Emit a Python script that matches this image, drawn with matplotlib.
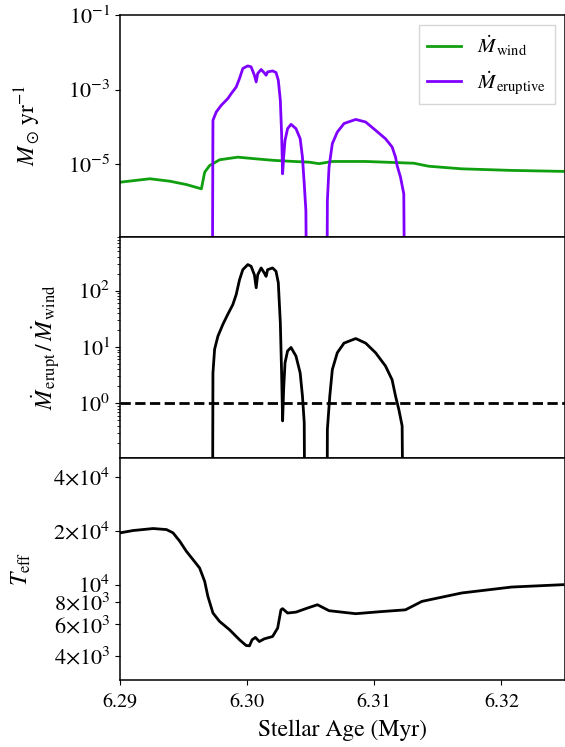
import numpy as np
import matplotlib.pyplot as plt
from matplotlib.ticker import NullLocator, FixedLocator

plt.rcParams['font.family'] = 'STIXGeneral'
plt.rcParams['mathtext.fontset'] = 'stix'
plt.rcParams['font.size'] = 14.5

# wind mass loss rate (Msun/yr)
age_wind = [6.29, 6.29235, 6.29392, 6.29522, 6.2964, 6.29666, 6.29705, 6.29731,
            6.29783, 6.29926, 6.30057, 6.30214, 6.3037, 6.30488, 6.30566, 6.3067,
            6.30932, 6.3131, 6.31428, 6.31686, 6.32078, 6.32485]
mdot_wind = [3.28e-6, 4.06e-6, 3.49e-6, 2.84e-6, 2.18e-6, 6.1e-6, 9.2e-6, 1.03e-5,
             1.31e-5, 1.54e-5, 1.4e-5, 1.26e-5, 1.18e-5, 1.13e-5, 1.03e-5, 1.18e-5,
             1.18e-5, 1.06e-5, 8.8e-6, 7.5e-6, 6.8e-6, 6.4e-6]

# eruptive mass loss rate (Msun/yr), 1e-12 where there is no eruption
age_erupt = [6.29723, 6.29731, 6.29757, 6.29796, 6.29848, 6.29875, 6.29914, 6.2994,
             6.29966, 6.30005, 6.30031, 6.30057, 6.30071, 6.30083, 6.3011, 6.30135,
             6.30149, 6.30161, 6.302, 6.30227, 6.30245, 6.30261, 6.30271, 6.30279,
             6.30287, 6.30298, 6.30318, 6.30345, 6.30384, 6.30417, 6.30435, 6.30449,
             6.30462, 6.30475, np.nan,
             6.30623, 6.30631, 6.30644, 6.3067, 6.30709, 6.30762, 6.30854, 6.30932,
             6.3101, 6.31088, 6.3114, 6.31167, 6.31179, 6.31206, 6.31232, 6.31245]
mdot_erupt = [1e-12, 1.5e-4, 2.5e-4, 3.78e-4, 5.73e-4, 7.8e-4, 1.17e-3, 1.98e-3,
              3.67e-3, 4.31e-3, 4.06e-3, 2.42e-3, 1.6e-3, 2.69e-3, 3.45e-3, 2.79e-3,
              2.42e-3, 2.97e-3, 3.16e-3, 2.86e-3, 1.78e-3, 5.15e-4, 6.56e-5, 5.52e-6,
              1.54e-5, 4.34e-5, 8.95e-5, 1.17e-4, 8.95e-5, 4.82e-5, 1.54e-5, 2.97e-6,
              5.7e-7, 1e-12, np.nan,
              1e-12, 1.05e-6, 8.3e-6, 3.55e-5, 7.24e-5, 1.23e-4, 1.58e-4, 1.35e-4,
              8.1e-5, 4.8e-5, 2.9e-5, 1.55e-5, 9.3e-6, 4.5e-6, 1.6e-6, 1e-12]

# ratio eruptive / wind
age_ratio = [6.29723, 6.29731, 6.29744, 6.2977, 6.29809, 6.29848, 6.29887, 6.29914,
             6.2994, 6.29966, 6.30005, 6.30031, 6.30057, 6.30071, 6.30083, 6.3011,
             6.30135, 6.30149, 6.30161, 6.302, 6.30227, 6.30245, 6.30261, 6.30271,
             6.30279, 6.30287, 6.30298, 6.30318, 6.30345, 6.30384, 6.30417, 6.30435,
             6.30449, 6.30462, np.nan,
             6.30623, 6.30631, 6.3065, 6.3067, 6.30709, 6.30762, 6.30854, 6.30932,
             6.3101, 6.31088, 6.3114, 6.31167, 6.31193, 6.31219, 6.3124]
ratio = [1e-6, 3.47, 9.1, 15.5, 25.1, 38, 56, 85,
         155, 234, 288, 269, 190, 112, 190, 251,
         204, 178, 234, 251, 219, 138, 26.9, 3.47,
         0.49, 1.78, 5.25, 8.5, 9.8, 6.9, 3.47, 1.35,
         0.457, 1e-6, np.nan,
         1e-6, 0.347, 1.35, 3.98, 7.9, 11.7, 14.1, 11.7,
         7.9, 4.6, 2.63, 1.35, 0.78, 0.4, 1e-6]

# effective temperature (K)
age_teff = [6.29, 6.29104, 6.29261, 6.29366, 6.29417, 6.2947, 6.29522, 6.29574,
            6.29626, 6.29666, 6.29691, 6.29731, 6.29783, 6.29861, 6.2994, 6.29992,
            6.30018, 6.30039, 6.30065, 6.30096, 6.30135, 6.302, 6.3024, 6.30266,
            6.30279, 6.30318, 6.30384, 6.30475, 6.30553, 6.30644, 6.30854, 6.31036,
            6.31245, 6.31375, 6.31688, 6.3208, 6.32485]
teff = [19450, 20040, 20560, 20280, 19450, 17460, 15350, 13800,
        12390, 10430, 8610, 6950, 6240, 5610, 4930, 4580,
        4560, 4930, 5080, 4820, 4990, 5140, 5730, 7240,
        7350, 6950, 7030, 7410, 7730, 7160, 6890, 7060,
        7240, 8070, 8990, 9700, 10000]
teff_ticks = [4000, 6000, 8000, 10000, 20000, 40000]
teff_ticklabels = ['4×10$^{3}$', '6×10$^{3}$', '8×10$^{3}$',
                   '10$^{4}$', '2×10$^{4}$', '4×10$^{4}$']

fig = plt.figure(figsize=(5.65, 7.47), dpi=100)
left, width = 0.2124, 0.7876
h = 0.2966
ax1 = fig.add_axes([left, 0.6834, width, h])
ax2 = fig.add_axes([left, 0.3866, width, h])
ax3 = fig.add_axes([left, 0.0900, width, h])

ax1.plot(age_wind, mdot_wind, color='#0f9f0f', lw=2, label=r'$\dot M_{\rm wind}$')
ax1.plot(age_erupt, mdot_erupt, color='#8000ff', lw=2, label=r'$\dot M_{\rm eruptive}$')
ax1.set_yscale('log')
ax1.set_ylim(1.15e-7, 1e-1)
ax1.yaxis.set_major_locator(FixedLocator([1e-5, 1e-3, 1e-1]))
ax1.yaxis.set_minor_locator(NullLocator())
ax1.set_ylabel(r'$M_\odot\,{\rm yr}^{-1}$', fontsize=17)
leg = ax1.legend(loc='upper right', fancybox=False, handlelength=1.6, fontsize=15)
leg.get_frame().set_edgecolor('#cccccc')

ax2.plot(age_ratio, ratio, color='k', lw=2)
ax2.axhline(1.0, color='k', lw=2, ls='--')
ax2.set_yscale('log')
ax2.set_ylim(0.107, 900)
ax2.yaxis.set_major_locator(FixedLocator([1, 10, 100]))
ax2.set_ylabel(r'$\dot M_{\rm erupt}\,/\,\dot M_{\rm wind}$', fontsize=17)

ax3.plot(age_teff, teff, color='k', lw=2)
ax3.set_yscale('log')
ax3.set_ylim(2950, 50700)
ax3.yaxis.set_major_locator(FixedLocator(teff_ticks))
ax3.yaxis.set_minor_locator(NullLocator())
ax3.set_yticklabels(teff_ticklabels)
ax3.set_ylabel(r'$T_{\rm eff}$', fontsize=17)
ax3.set_xlabel('Stellar Age (Myr)', fontsize=17, labelpad=6)
ax3.set_xticks([6.29, 6.30, 6.31, 6.32])
ax3.tick_params(axis='x', pad=7)

for ax in (ax1, ax2, ax3):
    ax.set_xlim(6.29, 6.325)
    ax.tick_params(axis='y', labelsize=16)
    for s in ax.spines.values():
        s.set_linewidth(1.1)
    for ln in ax.get_lines():
        ln.set_solid_joinstyle('round')
for ax in (ax1, ax2):
    ax.tick_params(axis='x', bottom=False, labelbottom=False)

ax1.yaxis.set_label_coords(-0.173, 0.5)
ax2.yaxis.set_label_coords(-0.130, 0.5)
ax3.yaxis.set_label_coords(-0.195, 0.5)

fig.savefig('out.png', dpi=100)
